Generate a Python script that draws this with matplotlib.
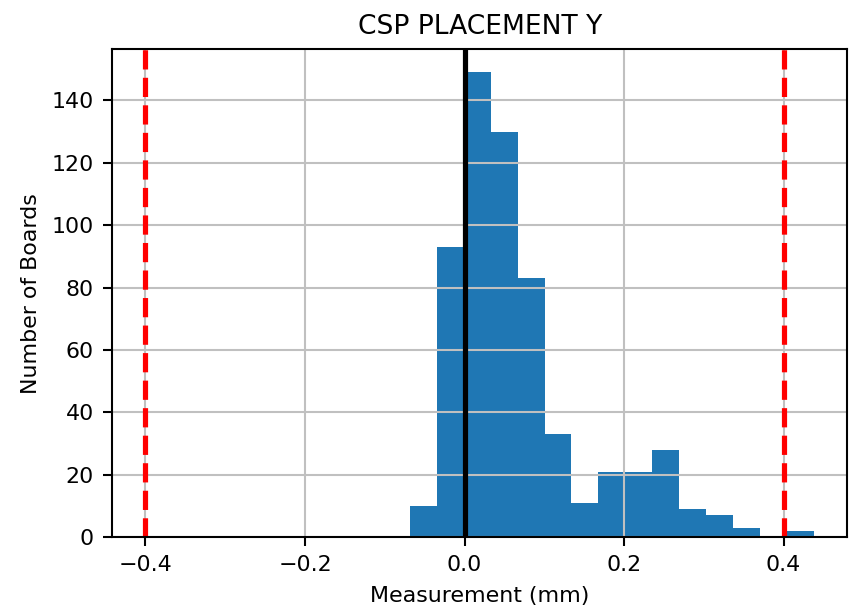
import numpy as np
import matplotlib
matplotlib.use("Agg")
import matplotlib.pyplot as plt

# histogram: 15 bins
bin_start = -0.0685
bin_end = 0.438
counts = [10, 93, 149, 130, 83, 33, 11, 21, 21, 28, 9, 7, 3, 0, 2]
lower_limit = -0.4
upper_limit = 0.4
nominal = 0.0

edges = np.linspace(bin_start, bin_end, len(counts) + 1)

plt.rcParams["font.size"] = 8.5

fig, ax = plt.subplots(figsize=(849 / 187, 614 / 187), dpi=187)
fig.subplots_adjust(left=0.132, right=0.998, top=0.920, bottom=0.125)

ax.hist(edges[:-1], bins=edges, weights=counts, color="#1f77b4")
ax.grid(True, color="#c0c0c0")
ax.axvline(lower_limit, color="r", linestyle="--", linewidth=2)
ax.axvline(upper_limit, color="r", linestyle="--", linewidth=2)
ax.axvline(nominal, color="k", linewidth=2)

ax.set_title("CSP PLACEMENT Y")
ax.set_xlabel("Measurement (mm)")
ax.set_ylabel("Number of Boards")

plt.savefig("out.png", dpi=187)
plt.close(fig)
